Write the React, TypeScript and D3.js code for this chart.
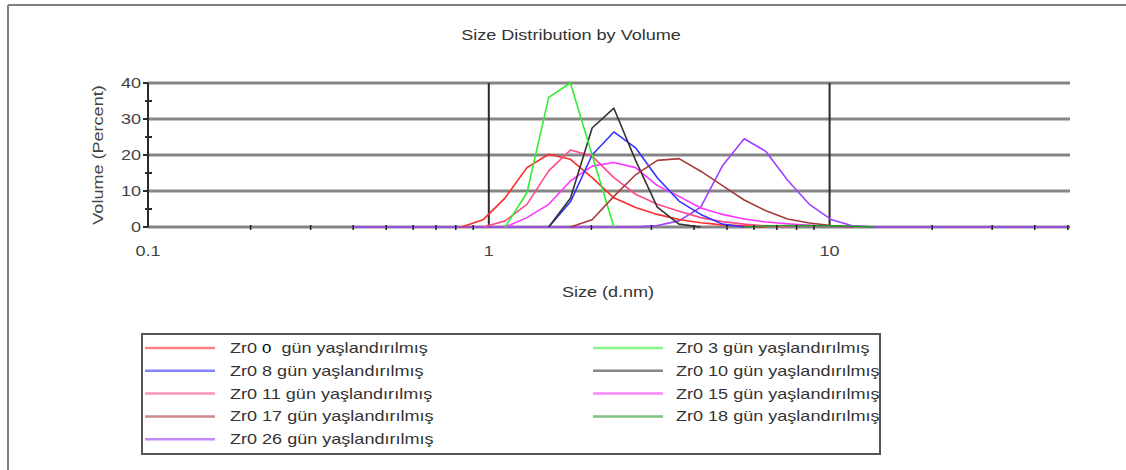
import React from "react";
import * as d3 from "d3";

// Size bins (d.nm) of the volume distribution
const SIZES = [
  0.4, 0.4632, 0.5365, 0.6213, 0.7195, 0.8332, 0.9649, 1.117, 1.294, 1.499,
  1.736, 2.01, 2.328, 2.696, 3.122, 3.615, 4.187, 4.849, 5.615, 6.503,
  7.531, 8.721, 10.1, 11.7, 13.54, 15.69, 18.17, 21.04, 24.36, 28.21,
  32.67, 37.84, 43.82, 50.75,
];

const _ = null;
// Volume (%) per bin; null = not part of the drawn trace
const ZR0_0 = [_, _, _, _, _, 0, 2.1, 8.1, 16.5, 20.2, 18.8, 13.7, 8.1, 5.4, 3.5, 2.1, 1.2, 0.6, 0.3, 0, _, _, _, _, _, _, _, _, _, _, _, _, _, _];
const ZR0_3 = [_, _, _, _, _, _, _, 0, 9.5, 36, 40, 20, 0, _, _, _, _, _, _, _, _, _, _, _, _, _, _, _, _, _, _, _, _, _];
const ZR0_8 = [_, _, _, _, _, _, _, _, _, 0, 7, 20, 26.4, 22, 13.7, 7.2, 3.5, 0.8, 0, _, _, _, _, _, _, _, _, _, _, _, _, _, _, _];
const ZR0_10 = [_, _, _, _, _, _, _, _, _, 0, 8, 27.5, 33, 18.5, 5.5, 0.8, 0, _, _, _, _, _, _, _, _, _, _, _, _, _, _, _, _, _];
const ZR0_11 = [_, _, _, _, _, _, 0, 1.7, 6.3, 15.6, 21.4, 19.7, 13.7, 9.1, 6.3, 4.4, 2.6, 1.5, 0.8, 0.3, 0, _, _, _, _, _, _, _, _, _, _, _, _, _];
const ZR0_15 = [_, _, _, _, _, _, _, 0, 2.6, 6.3, 12.8, 16.9, 17.9, 16.5, 11.5, 8.5, 5.3, 3.5, 2.2, 1.4, 0.9, 0.5, 0.2, 0, _, _, _, _, _, _, _, _, _, _];
const ZR0_17 = [_, _, _, _, _, _, _, _, _, _, 0, 2, 8.5, 14.5, 18.5, 19, 15.5, 11.5, 7.5, 4.5, 2.2, 1.1, 0.4, 0, _, _, _, _, _, _, _, _, _, _];
const ZR0_18 = [_, _, _, _, _, _, _, _, _, _, _, _, _, _, _, _, _, _, 0, 0.3, 0.4, 0.4, 0.3, 0.2, 0, _, _, _, _, _, _, _, _, _];
const ZR0_26 = [0, 0, 0, 0, 0, 0, 0, 0, 0, 0, 0, 0, 0, 0, 0.4, 1.7, 5.5, 17, 24.5, 21, 13, 6.3, 2.1, 0.3, 0, 0, 0, 0, 0, 0, 0, 0, 0, 0];

const X_TICKS = [0.1, 1, 10];
const X_MINOR = [0.2, 0.3, 0.4, 0.5, 0.6, 0.7, 0.8, 0.9, 2, 3, 4, 5, 6, 7, 8, 9, 20, 30, 40, 50];
const Y_TICKS = [0, 10, 20, 30, 40];
const Y_MINOR = [5, 15, 25, 35];

const SERIES = [
  { day: "0", values: ZR0_0, color: "#ff2a2a" },
  { day: "3", values: ZR0_3, color: "#33ee33" },
  { day: "8", values: ZR0_8, color: "#3333ff" },
  { day: "10", values: ZR0_10, color: "#333333" },
  { day: "11", values: ZR0_11, color: "#ff4a8a" },
  { day: "15", values: ZR0_15, color: "#ff33ff" },
  { day: "17", values: ZR0_17, color: "#a83a3a" },
  { day: "18", values: ZR0_18, color: "#2a9a2a" },
  { day: "26", values: ZR0_26, color: "#a040ff" },
];
// purple trace first so the others sit on top of its baseline
const DRAW_ORDER = [8, 0, 4, 5, 2, 3, 1, 6, 7];

const W = 1126;
const H = 470;
const FONT = "'Liberation Sans', Arial, sans-serif";
const STRETCH = 1.29; // the chart's lettering is set wide

function Label({
  x,
  y,
  anchor = "start",
  rotate = 0,
  size = 14,
  fill = "#333",
  children,
}: {
  x: number;
  y: number;
  anchor?: string;
  rotate?: number;
  size?: number;
  fill?: string;
  children: React.ReactNode;
}) {
  return (
    <text
      transform={`translate(${x},${y}) rotate(${rotate}) scale(${STRETCH},1)`}
      textAnchor={anchor}
      fontSize={size}
      fill={fill}
      style={{ whiteSpace: "pre" }}
    >
      {children}
    </text>
  );
}

export default function App() {
  const x = d3.scaleLog().domain([0.1, 50.75]).range([148, 1070]);
  const y = d3.scaleLinear().domain([0, 40]).range([227, 83]);

  const line = d3
    .line<number | null>()
    .defined((v) => v !== null)
    .x((_v, i) => x(SIZES[i]))
    .y((v) => y(v as number));

  const legendRows = SERIES.map((s, i) => ({
    s,
    col: i % 2,
    row: Math.floor(i / 2),
  }));

  return (
    <svg
      width={W}
      height={H}
      style={{ position: "absolute", left: 0, top: 0, background: "#fff" }}
      fontFamily={FONT}
    >
      {/* outer frame */}
      <line x1={8} y1={5} x2={W} y2={5} stroke="#808080" strokeWidth={2} />
      <line x1={8} y1={5} x2={8} y2={H} stroke="#808080" strokeWidth={2} />

      <Label x={571} y={40} anchor="middle">
        Size Distribution by Volume
      </Label>

      {/* horizontal grid */}
      {Y_TICKS.map((t) => (
        <line key={"g" + t} x1={x(0.1)} x2={x(50.75)} y1={y(t)} y2={y(t)} stroke="#858585" strokeWidth={3} />
      ))}
      {/* decade lines */}
      {X_TICKS.map((t) => (
        <line key={"v" + t} x1={x(t)} x2={x(t)} y1={y(40)} y2={y(0)} stroke="#2a2a2a" strokeWidth={2} />
      ))}

      {/* y axis ticks */}
      {Y_TICKS.map((t) => (
        <g key={"yt" + t}>
          <line x1={x(0.1) - 5} x2={x(0.1)} y1={y(t)} y2={y(t)} stroke="#2a2a2a" strokeWidth={2} />
          <Label x={141} y={y(t) + 5} anchor="end" fill="#444">
            {t}
          </Label>
        </g>
      ))}
      {Y_MINOR.map((t) => (
        <line key={"ym" + t} x1={x(0.1) - 3} x2={x(0.1) + 4} y1={y(t)} y2={y(t)} stroke="#2a2a2a" strokeWidth={2} />
      ))}

      {/* series */}
      {DRAW_ORDER.map((i) => (
        <path
          key={"s" + i}
          d={line(SERIES[i].values) || ""}
          fill="none"
          stroke={SERIES[i].color}
          strokeWidth={1.6}
          strokeLinejoin="round"
        />
      ))}

      {/* x minor ticks */}
      {X_MINOR.map((t) => (
        <line key={"xm" + t} x1={x(t)} x2={x(t)} y1={y(0) - 2} y2={y(0) + 3} stroke="#222" strokeWidth={1.5} />
      ))}

      {X_TICKS.map((t) => (
        <Label key={"xl" + t} x={x(t)} y={256} anchor="middle" fill="#444">
          {t}
        </Label>
      ))}

      <Label x={608} y={297} anchor="middle">
        Size (d.nm)
      </Label>
      <Label x={103} y={155} anchor="middle" rotate={-90} fill="#444">
        Volume (Percent)
      </Label>

      {/* legend */}
      <rect x={142} y={334} width={738} height={120} fill="#fff" stroke="#555" strokeWidth={2} />
      {legendRows.map(({ s, col, row }) => {
        const lx = col === 0 ? 145 : 593;
        const tx = col === 0 ? 230 : 676;
        const ly = 348 + row * 22.8;
        return (
          <g key={"lg" + s.day}>
            <line x1={lx} x2={lx + 70} y1={ly} y2={ly} stroke={s.color} strokeOpacity={0.6} strokeWidth={2.5} />
            <Label x={tx} y={ly + 5}>
              {s.day === "0" ? (
                <>
                  {"Zr0 "}
                  <tspan fill="#000" fontSize={13}>
                    {s.day}
                  </tspan>
                  {"  gün yaşlandırılmış"}
                </>
              ) : (
                `Zr0 ${s.day} gün yaşlandırılmış`
              )}
            </Label>
          </g>
        );
      })}
    </svg>
  );
}
